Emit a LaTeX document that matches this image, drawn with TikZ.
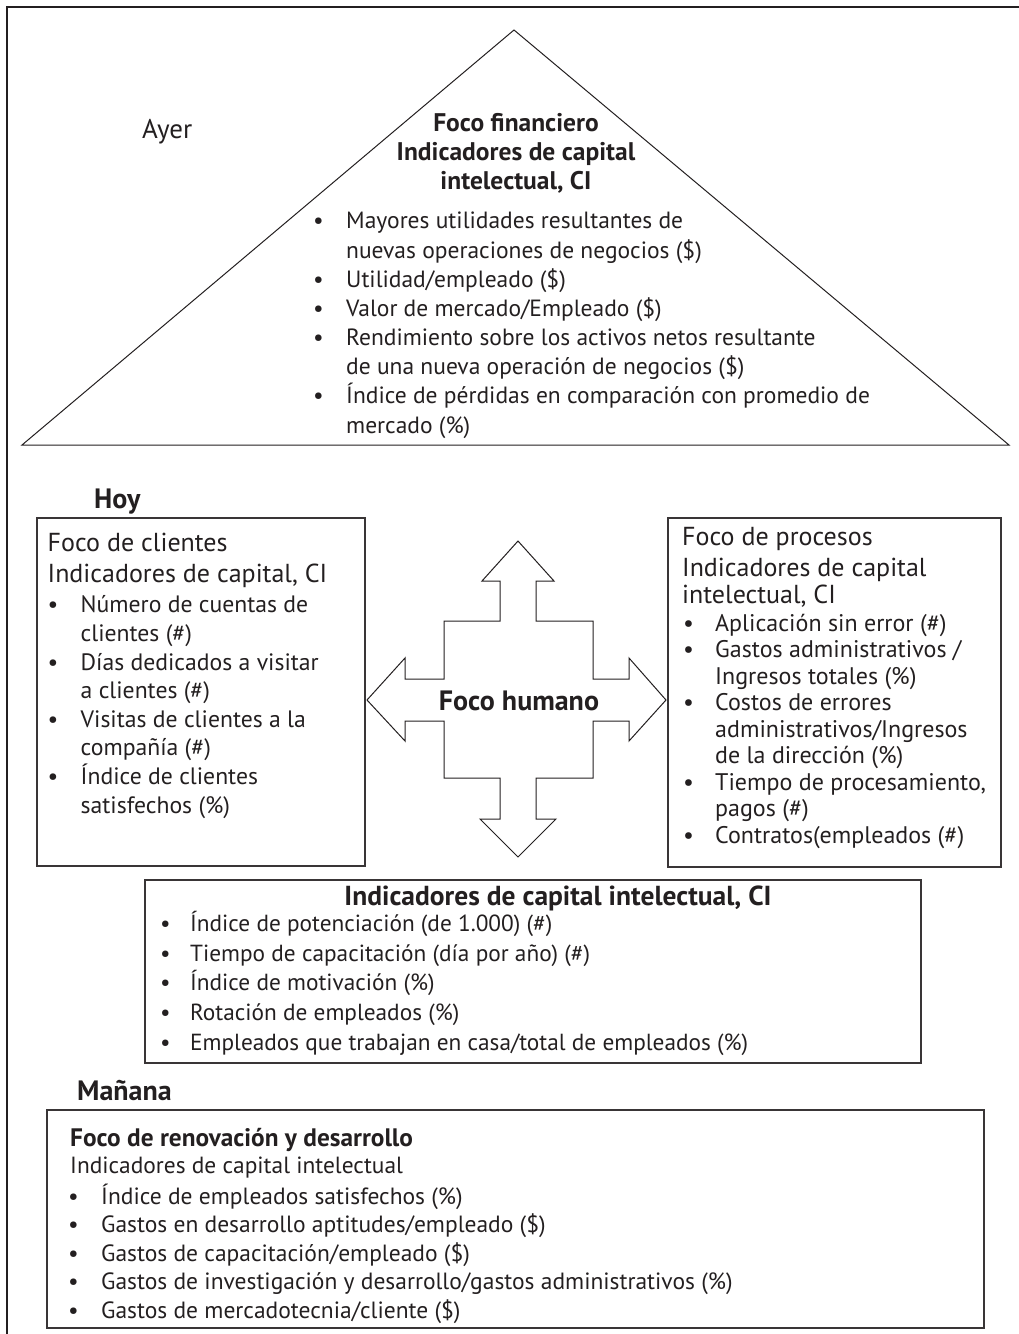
\documentclass[tikz,border=0pt]{standalone}
\usepackage{fontspec}
\setmainfont{PT Sans}
\definecolor{ink}{HTML}{231F20}
\newcommand{\bu}[1]{\makebox[#1][l]{•}}
\newcommand{\ct}[1]{\hspace*{#1}}
\begin{document}
\begin{tikzpicture}[x=1pt,y=-1pt,
  outer/.style={draw=ink, line width=1.8pt},
  boxline/.style={draw=ink!90, line width=1.3pt},
  triline/.style={draw=ink, line width=1pt, line join=miter},
  txt/.style={inner sep=0pt, anchor=base west, align=left, text=ink},
  ctr/.style={inner sep=0pt, anchor=base, align=center, text=ink}]
\useasboundingbox (0,0) rectangle (1019,1334);
% outer frame (partly outside the picture)
\draw[outer] (7,1345) -- (7,7) -- (1030,7);
% triangle
\draw[triline] (514,30) -- (1009,445) -- (22,445) -- cycle;
\node[txt, font=\fontsize{27}{29}\selectfont] (ayer) at (142,138) {Ayer};
\node[ctr, font=\bfseries\fontsize{25.5}{29}\selectfont] (fin) at (516,189)
  {Foco financiero\\Indicadores de capital\\intelectual, CI};
\node[txt, font=\fontsize{23.5}{29.15}\selectfont] (finl) at (313,433)
  {\bu{33pt}Mayores utilidades resultantes de\\
   \ct{33pt}nuevas operaciones de negocios (\$)\\
   \bu{33pt}Utilidad/empleado (\$)\\
   \bu{33pt}Valor de mercado/Empleado (\$)\\
   \bu{33pt}Rendimiento sobre los activos netos resultante\\
   \ct{33pt}de una nueva operación de negocios (\$)\\
   \bu{33pt}Índice de pérdidas en comparación con promedio de\\
   \ct{33pt}mercado (\%)};
% Hoy
\node[txt, font=\bfseries\fontsize{28}{29}\selectfont] (hoy) at (94,508) {Hoy};
% left box
\draw[boxline] (37,518) rectangle (365,866);
\node[txt, font=\fontsize{26}{31}\selectfont] (clih) at (47.5,582)
  {Foco de clientes\\Indicadores de capital, CI};
\node[txt, font=\fontsize{23.7}{28.6}\selectfont] (cli) at (47.5,813)
  {\bu{33pt}Número de cuentas de\\
   \ct{33pt}clientes (\#)\\
   \bu{33pt}Días dedicados a visitar\\
   \ct{33pt}a clientes (\#)\\
   \bu{33pt}Visitas de clientes a la\\
   \ct{33pt}compañía (\#)\\
   \bu{33pt}Índice de clientes\\
   \ct{33pt}satisfechos (\%)};
% right box
\draw[boxline] (668,518) rectangle (1001,867);
\node[txt, font=\fontsize{26}{27}\selectfont] (proh) at (682,603)
  {Foco de procesos\\[4pt]
   Indicadores de capital\\
   intelectual, CI};
\node[txt, font=\fontsize{24}{26.5}\selectfont] (pro) at (683,843)
  {\bu{32pt}Aplicación sin error (\#)\\
   \bu{32pt}Gastos administrativos /\\
   \ct{32pt}Ingresos totales (\%)\\
   \bu{32pt}Costos de errores\\
   \ct{32pt}administrativos/Ingresos\\
   \ct{32pt}de la dirección (\%)\\
   \bu{32pt}Tiempo de procesamiento,\\
   \ct{32pt}pagos (\#)\\
   \bu{32pt}Contratos(empleados (\#)};
% cross arrow
\draw[triline] (518,541) -- (554,581) -- (536,581) -- (536,621) -- (593,621)
  -- (593,679) -- (629,679) -- (629,658) -- (666,700) -- (629,741) -- (629,721)
  -- (593,721) -- (593,778) -- (536,778) -- (536,819) -- (556,819) -- (518,857)
  -- (480,819) -- (500,819) -- (500,778) -- (444,778) -- (444,721) -- (405,721)
  -- (405,741) -- (367,700) -- (405,658) -- (405,679) -- (444,679) -- (444,621)
  -- (500,621) -- (500,581) -- (482,581) -- cycle;
\node[ctr, font=\bfseries\fontsize{28}{29}\selectfont] (hum) at (519,710) {Foco humano};
% middle box
\draw[boxline] (145,880) rectangle (921,1063);
\node[ctr, font=\bfseries\fontsize{27.5}{29}\selectfont] (mid) at (558,905)
  {Indicadores de capital intelectual, CI};
\node[txt, font=\fontsize{23.3}{29.6}\selectfont] (midl) at (160,1050)
  {\bu{30pt}Índice de potenciación (de 1.000) (\#)\\
   \bu{30pt}Tiempo de capacitación (día por año) (\#)\\
   \bu{30pt}Índice de motivación (\%)\\
   \bu{30pt}Rotación de empleados (\%)\\
   \bu{30pt}Empleados que trabajan en casa/total de empleados (\%)};
% Manana
\node[txt, font=\bfseries\fontsize{28}{29}\selectfont] (man) at (77,1100) {Mañana};
% bottom box
\draw[boxline] (47,1110) rectangle (984,1328);
\node[txt, font=\bfseries\fontsize{25.3}{27}\selectfont] (ren) at (70,1146)
  {Foco de renovación y desarrollo};
\node[txt, font=\fontsize{23.4}{27}\selectfont] (renh) at (70,1173)
  {Indicadores de capital intelectual};
\node[txt, font=\fontsize{23.5}{28.5}\selectfont] (renl) at (68,1318)
  {\bu{33pt}Índice de empleados satisfechos (\%)\\
   \bu{33pt}Gastos en desarrollo aptitudes/empleado (\$)\\
   \bu{33pt}Gastos de capacitación/empleado (\$)\\
   \bu{33pt}Gastos de investigación y desarrollo/gastos administrativos (\%)\\
   \bu{33pt}Gastos de mercadotecnia/cliente (\$)};
\end{tikzpicture}
\end{document}
